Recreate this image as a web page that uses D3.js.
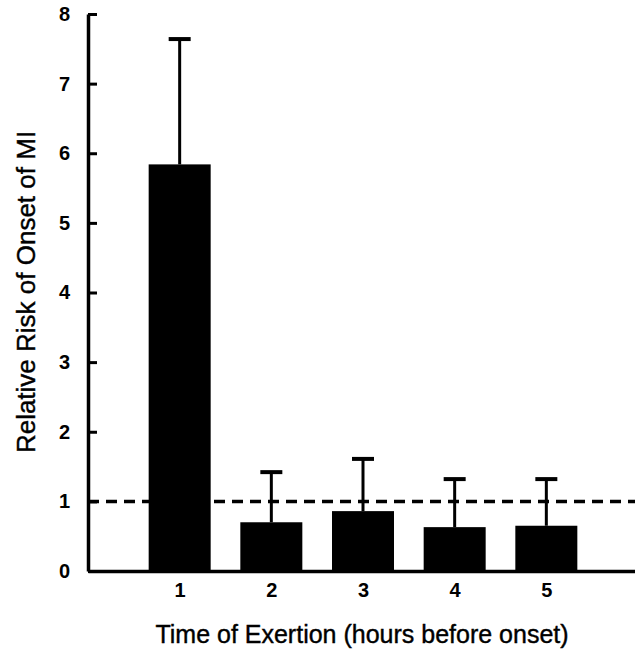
<!DOCTYPE html>
<html>
<head>
<meta charset="utf-8">
<script src="https://cdn.jsdelivr.net/npm/d3@7"></script>
<style>
  html, body { margin: 0; padding: 0; background: #fff; }
  svg { display: block; }
  text { font-family: "Liberation Sans", Arial, Helvetica, sans-serif; fill: #000; }
</style>
</head>
<body>
<svg id="chart" width="635" height="652"></svg>
<script>
// ---- data ----
const categories = [1, 2, 3, 4, 5];
const relativeRisk = [5.84, 0.70, 0.86, 0.63, 0.65];
const upperError = [7.64, 1.42, 1.61, 1.32, 1.32];
const yTicks = [0, 1, 2, 3, 4, 5, 6, 7, 8];
const referenceValue = 1;
const xTitle = "Time of Exertion (hours before onset)";
const yTitle = "Relative Risk of Onset of MI";

// ---- layout ----
const svg = d3.select("#chart");
const x0 = 88, x1 = 638, yBottom = 571, yTop = 14;
const x = d3.scaleLinear().domain([0, 6]).range([x0, x1]);
const y = d3.scaleLinear().domain([0, 8]).range([yBottom, yTop]);
const barW = 62;

// bars
svg.append("g").selectAll("rect").data(categories).join("rect")
  .attr("x", (d) => x(d) - barW / 2)
  .attr("y", (d, i) => y(relativeRisk[i]))
  .attr("width", barW)
  .attr("height", (d, i) => y(0) - y(relativeRisk[i]))
  .attr("fill", "#000");

// reference dashed line
svg.append("line")
  .attr("x1", x0).attr("x2", 635)
  .attr("y1", y(referenceValue)).attr("y2", y(referenceValue))
  .attr("stroke", "#000").attr("stroke-width", 3.5)
  .attr("stroke-dasharray", "11,7");

// error bars (upward only)
const eb = svg.append("g").attr("stroke", "#000");
eb.selectAll("line.v").data(categories).join("line")
  .attr("class", "v")
  .attr("x1", (d) => x(d)).attr("x2", (d) => x(d))
  .attr("y1", (d, i) => y(relativeRisk[i]))
  .attr("y2", (d, i) => y(upperError[i]))
  .attr("stroke-width", 3);
eb.selectAll("line.c").data(categories).join("line")
  .attr("class", "c")
  .attr("x1", (d) => x(d) - 11).attr("x2", (d) => x(d) + 11)
  .attr("y1", (d, i) => y(upperError[i]))
  .attr("y2", (d, i) => y(upperError[i]))
  .attr("stroke-width", 4);

// y axis
const yAxis = svg.append("g")
  .attr("transform", `translate(${x0},0)`)
  .call(d3.axisLeft(y).tickValues(yTicks).tickFormat(d3.format("d"))
    .tickSizeInner(-9).tickSizeOuter(0).tickPadding(18));
yAxis.select(".domain").attr("stroke-width", 3.5);
yAxis.selectAll(".tick line").attr("stroke-width", 3);
yAxis.selectAll(".tick text").attr("font-size", 20).attr("font-weight", "bold")
  .style("font-family", "Liberation Sans, Arial, sans-serif");

// x axis
const xAxis = svg.append("g")
  .attr("transform", `translate(0,${yBottom})`)
  .call(d3.axisBottom(x).tickValues(categories).tickFormat(d3.format("d"))
    .tickSizeInner(0).tickSizeOuter(0).tickPadding(12));
xAxis.select(".domain").attr("stroke-width", 3.5);
xAxis.selectAll(".tick text").attr("font-size", 20).attr("font-weight", "bold")
  .style("font-family", "Liberation Sans, Arial, sans-serif");

// titles
svg.append("text")
  .attr("x", 362).attr("y", 643)
  .attr("text-anchor", "middle")
  .attr("font-size", 25)
  .attr("stroke", "#000").attr("stroke-width", 0.4)
  .text(xTitle);

svg.append("text")
  .attr("transform", "translate(35,292) rotate(-90)")
  .attr("text-anchor", "middle")
  .attr("font-size", 26)
  .attr("stroke", "#000").attr("stroke-width", 0.4)
  .text(yTitle);
</script>
</body>
</html>
